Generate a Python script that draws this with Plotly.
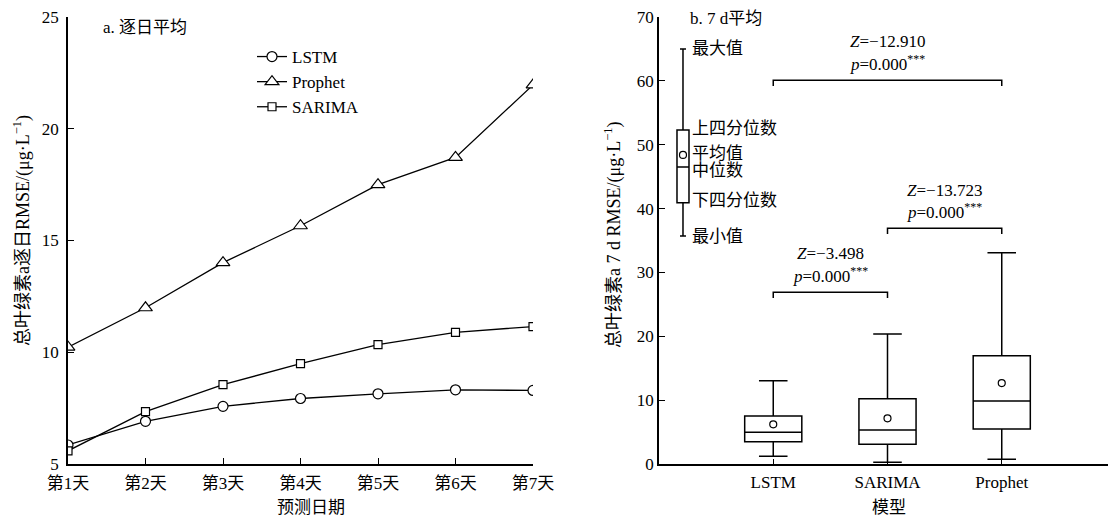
import plotly.graph_objects as go

# ---------------- data ----------------
days = ["第1天", "第2天", "第3天", "第4天", "第5天", "第6天", "第7天"]
lstm_daily = [5.85, 6.91, 7.58, 7.93, 8.14, 8.32, 8.29]
prophet_daily = [10.23, 11.99, 14.01, 15.66, 17.50, 18.72, 21.96]
sarima_daily = [5.59, 7.34, 8.55, 9.49, 10.34, 10.89, 11.15]

models = ["LSTM", "SARIMA", "Prophet"]
box_q1 = [3.49, 3.08, 5.48]
box_median = [4.96, 5.32, 9.86]
box_q3 = [7.51, 10.22, 16.95]
box_min = [1.20, 0.26, 0.73]
box_max = [13.04, 20.34, 33.10]
box_mean = [6.21, 7.15, 12.68]

# explanatory key box
key_x = -0.79
key_stats = dict(q1=40.9, median=46.5, q3=52.3, lowerfence=35.7, upperfence=65.0, mean=48.4)
key_labels = ["最大值", "上四分位数", "平均值", "中位数", "下四分位数", "最小值"]
key_label_y = [65.1, 52.6, 48.7, 46.0, 41.3, 35.7]

# significance tests: (left model index, right model index, bracket level, Z)
tests = [(0, 2, 60.1, "−12.910"), (1, 2, 36.9, "−13.723"), (0, 1, 26.9, "−3.498")]
p_text = "0.000"

FONT = "Liberation Serif, Noto Sans CJK SC, serif"
OFF = 8                      # page body margin
W, H = 1116 - OFF, 522 - OFF
TOP, BOTTOM = 17, 464        # plot area in picture pixels

fig = go.Figure()

# ---------------- panel a ----------------
x_days = list(range(1, 8))
series = [("LSTM", lstm_daily, "circle", 10), ("Prophet", prophet_daily, "triangle-up", 12),
          ("SARIMA", sarima_daily, "square", 8)]
for name, vals, sym, sz in series:
    fig.add_trace(go.Scatter(
        x=x_days, y=vals, name=name, mode="lines+markers",
        line=dict(color="black", width=1.3),
        marker=dict(symbol=sym, size=sz, color="white", line=dict(color="black", width=1.2)),
        xaxis="x", yaxis="y"))

# ---------------- panel b ----------------
fig.add_trace(go.Box(
    x=[0, 1, 2], q1=box_q1, median=box_median, q3=box_q3,
    lowerfence=box_min, upperfence=box_max, width=0.5, whiskerwidth=0.5,
    fillcolor="white", line=dict(color="black", width=1.5), boxpoints=False,
    showlegend=False, xaxis="x2", yaxis="y2", hoverinfo="skip"))
fig.add_trace(go.Scatter(
    x=[0, 1, 2], y=box_mean, mode="markers", showlegend=False,
    marker=dict(symbol="circle-open", size=7, color="black", line=dict(width=1.2)),
    xaxis="x2", yaxis="y2"))

# key box
fig.add_trace(go.Box(
    x=[key_x], q1=[key_stats["q1"]], median=[key_stats["median"]], q3=[key_stats["q3"]],
    lowerfence=[key_stats["lowerfence"]], upperfence=[key_stats["upperfence"]],
    width=0.105, whiskerwidth=0.5, fillcolor="white",
    line=dict(color="black", width=1.5), boxpoints=False, showlegend=False,
    xaxis="x2", yaxis="y2", hoverinfo="skip"))
fig.add_trace(go.Scatter(
    x=[key_x], y=[key_stats["mean"]], mode="markers", showlegend=False,
    marker=dict(symbol="circle-open", size=7, color="black", line=dict(width=1.2)),
    xaxis="x2", yaxis="y2"))

annotations = []
for lab, yv in zip(key_labels, key_label_y):
    annotations.append(dict(x=key_x + 0.06, y=yv, xref="x2", yref="y2", text=lab,
                            showarrow=False, xanchor="left", yanchor="middle",
                            font=dict(size=17, family=FONT, color="black")))

# brackets
leg = 0.9
for a, b, lvl, z in tests:
    fig.add_trace(go.Scatter(
        x=[a, a, b, b], y=[lvl - leg, lvl, lvl, lvl - leg], mode="lines",
        line=dict(color="black", width=1.5), showlegend=False, hoverinfo="skip",
        xaxis="x2", yaxis="y2"))
    xm = (a + b) / 2
    annotations.append(dict(x=xm, y=lvl + 6.0, xref="x2", yref="y2",
                            text=f"<i>Z</i>={z}", showarrow=False,
                            xanchor="center", yanchor="middle",
                            font=dict(size=17, family=FONT, color="black")))
    annotations.append(dict(x=xm, y=lvl + 2.7, xref="x2", yref="y2",
                            text=f"<i>p</i>={p_text}<sup>***</sup>", showarrow=False,
                            xanchor="center", yanchor="middle",
                            font=dict(size=17, family=FONT, color="black")))

def px(p):  # picture x -> paper x
    return (p - OFF) / W

def py(p):  # picture y -> paper y
    return (BOTTOM - p) / (BOTTOM - TOP)

annotations += [
    dict(x=px(101), y=py(27), xref="paper", yref="paper", text="a. 逐日平均",
         showarrow=False, xanchor="left", yanchor="middle",
         font=dict(size=17, family=FONT, color="black")),
    dict(x=px(688), y=py(18), xref="paper", yref="paper", text="b. 7 d平均",
         showarrow=False, xanchor="left", yanchor="middle",
         font=dict(size=17, family=FONT, color="black")),
    dict(x=px(22), y=py(231), xref="paper", yref="paper", textangle=-90,
         text="总叶绿素a逐日RMSE/(μg·L<sup>−1</sup>)", showarrow=False,
         xanchor="center", yanchor="middle",
         font=dict(size=18, family=FONT, color="black")),
    dict(x=px(613), y=py(235), xref="paper", yref="paper", textangle=-90,
         text="总叶绿素a 7 d RMSE/(μg·L<sup>−1</sup>)", showarrow=False,
         xanchor="center", yanchor="middle",
         font=dict(size=18, family=FONT, color="black")),
    dict(x=px(311), y=py(508), xref="paper", yref="paper", text="预测日期",
         showarrow=False, xanchor="center", yanchor="middle",
         font=dict(size=17, family=FONT, color="black")),
    dict(x=px(889), y=py(508), xref="paper", yref="paper", text="模型",
         showarrow=False, xanchor="center", yanchor="middle",
         font=dict(size=17, family=FONT, color="black")),
]

axis_common = dict(showline=True, linecolor="black", linewidth=1.5, ticks="inside",
                   tickcolor="black", ticklen=6, showgrid=False, zeroline=False,
                   automargin=False, ticklabeloverflow="allow",
                   tickfont=dict(size=17, family=FONT, color="black"))

fig.update_layout(
    width=W, height=H,
    margin=dict(l=0, r=0, t=TOP - OFF, b=H - (BOTTOM - OFF), autoexpand=False),
    paper_bgcolor="white", plot_bgcolor="white",
    font=dict(family=FONT, size=17, color="black"),
    boxmode="overlay",
    xaxis=dict(domain=[px(68), px(533)], range=[1, 7], tickvals=x_days, ticktext=days,
               anchor="y", ticklabelstandoff=3, **axis_common),
    yaxis=dict(domain=[0, 1], range=[5, 25], tickvals=[5, 10, 15, 20, 25],
               anchor="x", ticklabelstandoff=4, **axis_common),
    xaxis2=dict(domain=[px(659), 1.0], range=[-1, 3], tickvals=[0, 1, 2], ticktext=models,
                anchor="y2", ticklabelstandoff=2, **{**axis_common, "ticklen": 5}),
    yaxis2=dict(domain=[0, 1], range=[0, 70], tickvals=[0, 10, 20, 30, 40, 50, 60, 70],
                anchor="x2", **axis_common),
    legend=dict(x=px(252), y=py(39), xanchor="left", yanchor="top",
                bgcolor="rgba(0,0,0,0)", font=dict(size=17, family=FONT, color="black"),
                tracegroupgap=0, itemwidth=30),
    annotations=annotations,
)

fig.write_html("out.html")
